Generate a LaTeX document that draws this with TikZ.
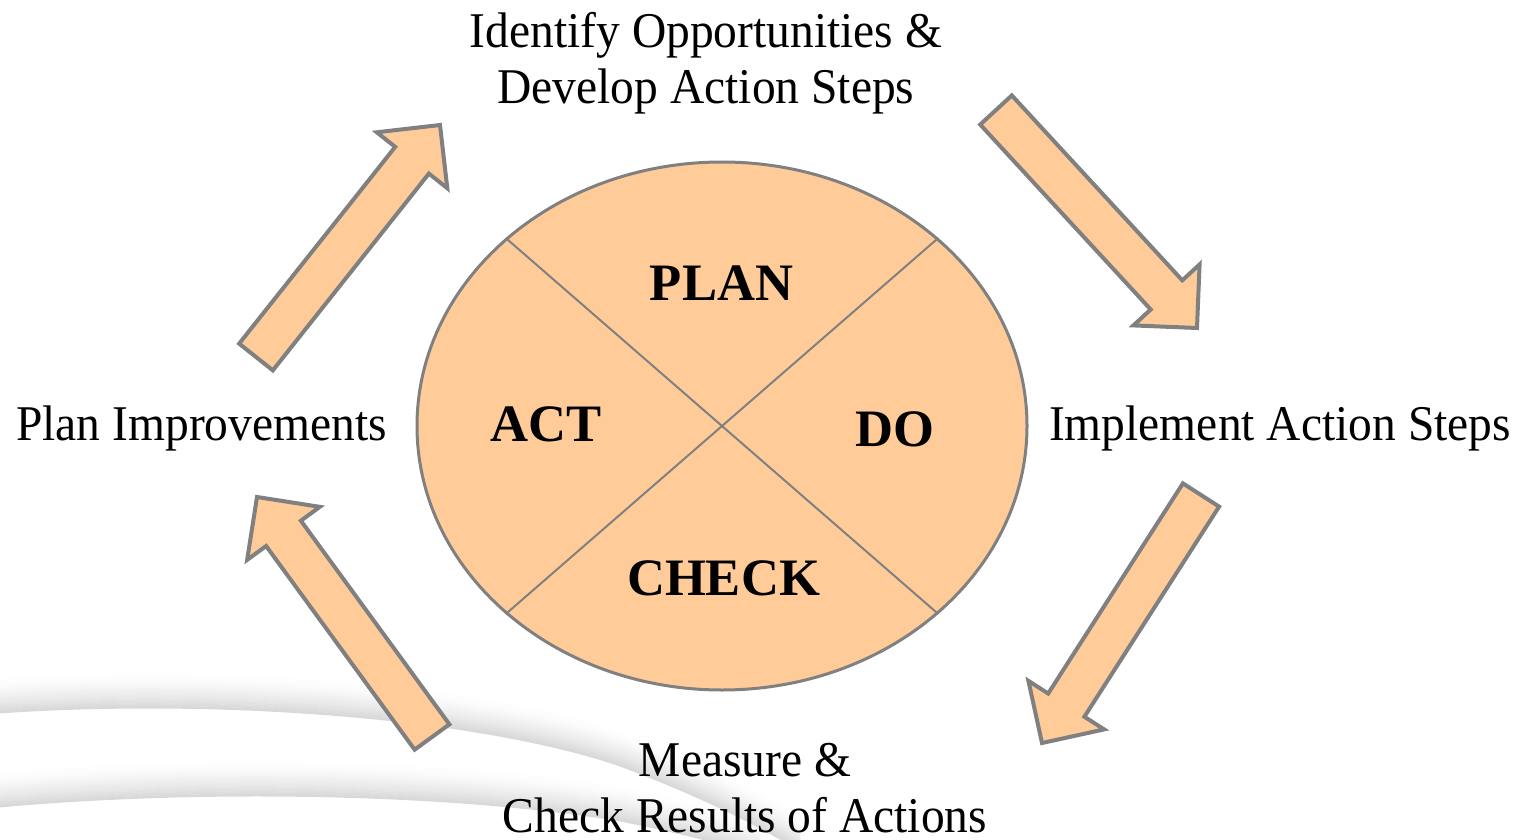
\documentclass[tikz,border=0pt]{standalone}
\usepackage{fontspec}
\setmainfont{Liberation Serif}
\newfontfamily\lblfont[FakeStretch=0.95]{Liberation Serif}
\usetikzlibrary{calc,shapes.geometric}
\definecolor{peach}{HTML}{FFCC99}
\definecolor{edgegray}{HTML}{808080}
\newcommand{\pdcaarrow}[2]{%
  \coordinate (hh) at ($(#2)!22.5pt!(#1)$);
  \draw[blockarrow] ($(#1)!10.75pt!90:(#2)$) -- ($(hh)!10.75pt!90:(#2)$)
    -- ($(hh)!22.5pt!90:(#2)$) -- (#2) -- ($(hh)!22.5pt!-90:(#2)$)
    -- ($(hh)!10.75pt!-90:(#2)$) -- ($(#1)!10.75pt!-90:(#2)$) -- cycle;
}
\begin{document}
\begin{tikzpicture}[x=0.5pt,y=-0.5pt,
  bandline/.style={line width=1.4pt},
  blockarrow/.style={fill=peach, draw=edgegray, line width=2pt, line join=miter},
  divider/.style={draw=edgegray, line width=1pt},
  labeltext/.style={font=\lblfont\fontsize{25pt}{28pt}\selectfont, inner sep=0pt},
  phase/.style={font=\bfseries\fontsize{26.3pt}{30pt}\selectfont, inner sep=0pt}]
\useasboundingbox (0,0) rectangle (1526,840);
% background swooshes
\foreach \k in {13,...,0}{
  \pgfmathsetmacro\shd{15*(1-\k/14)^1.6}
  \draw[bandline, draw=black!\shd, yshift=\k*1.25pt]
    (0,712) .. controls (220,697) and (480,717) .. (620,765)
    .. controls (700,795) and (760,825) .. (800,850);
  \draw[bandline, draw=black!\shd, yshift=\k*1.25pt]
    (0,806) .. controls (200,788) and (450,792) .. (620,820)
    .. controls (680,832) and (720,842) .. (760,855);
}
% central cycle
\node[ellipse, draw=edgegray, line width=1.5pt, fill=peach, minimum width=305pt,
  minimum height=264pt, inner sep=0pt] (cyc) at (722,426) {};
\draw[divider] (cyc.139) -- (cyc.-41);
\draw[divider] (cyc.41) -- (cyc.-139);
\node[phase, anchor=base] (plan) at (721.5,300) {PLAN};
\node[phase, anchor=base] (act) at (546,441) {ACT};
\node[phase, anchor=base] (do) at (895,446) {DO};
\node[phase, anchor=base] (check) at (723.5,595) {CHECK};
% outer labels
\node[labeltext, align=center] (identify) at (706,63.5) {Identify Opportunities \&\\Develop Action Steps};
\node[labeltext, anchor=base] (planimp) at (201.5,440) {Plan Improvements};
\node[labeltext, anchor=base] (impl) at (1280,440) {Implement Action Steps};
\node[labeltext, align=center] (measure) at (745,788) {Measure \&\\Check Results of Actions};
% block arrows
\coordinate (a1s) at (256,357); \coordinate (a1e) at (440,125);
\coordinate (a2s) at (996,110); \coordinate (a2e) at (1197,328);
\coordinate (a3s) at (1201,495); \coordinate (a3e) at (1042,743);
\coordinate (a4s) at (432,737); \coordinate (a4e) at (257,497);
\pdcaarrow{a1s}{a1e}
\pdcaarrow{a2s}{a2e}
\pdcaarrow{a3s}{a3e}
\pdcaarrow{a4s}{a4e}
\end{tikzpicture}
\end{document}
